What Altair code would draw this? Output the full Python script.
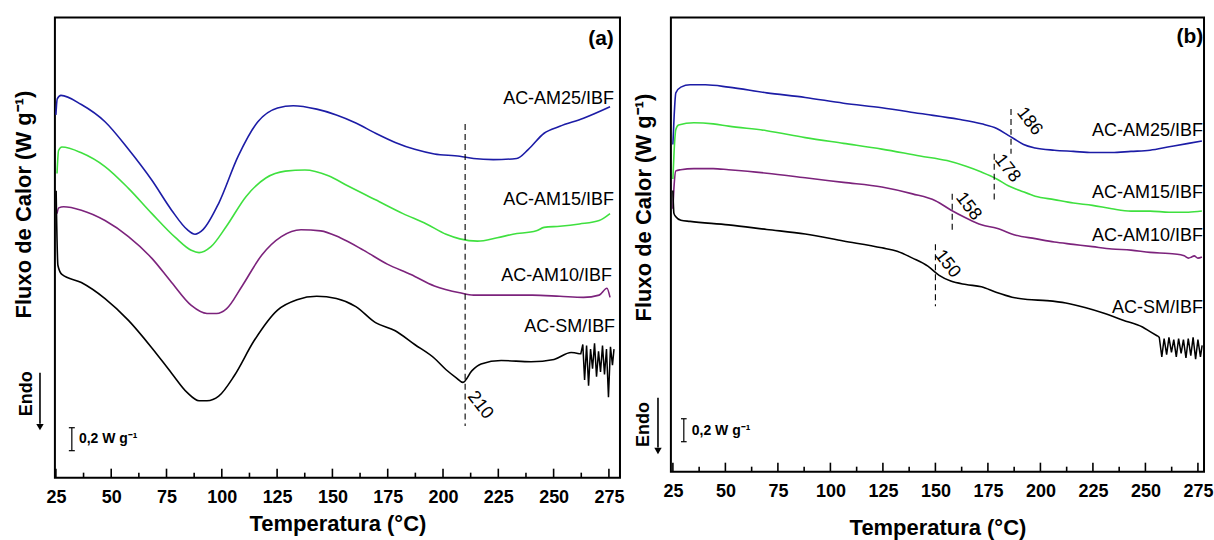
import altair as alt
import pandas as pd

# ---------------------------------------------------------------- series
SERIES = ["AC-AM25/IBF", "AC-AM15/IBF", "AC-AM10/IBF", "AC-SM/IBF"]
COLORS = ["#1c1ca6", "#3fe03f", "#7c237c", "#000000"]

# ---- panel (a): DSC heating curves, temperature (°C) vs heat flow (W/g, shifted)
a_am25_t = [25.0, 25.6, 27.3, 36.5, 47.2, 57.8, 68.4, 77.3, 84.4, 87.9, 91.5, 98.6, 107.4, 116.3, 125.2, 132.3,
            142.9, 151.8, 160.6, 169.5, 178.4, 187.2, 196.1, 207.6, 213.8, 222.7, 233.3, 238.6, 245.7, 252.8, 263.5, 275.5]
a_am25_q = [3.16, 3.30, 3.33, 3.25, 3.10, 2.86, 2.59, 2.33, 2.16, 2.12, 2.16, 2.39, 2.80, 3.10, 3.22, 3.24,
            3.21, 3.16, 3.09, 3.00, 2.92, 2.86, 2.82, 2.80, 2.78, 2.77, 2.78, 2.86, 3.00, 3.06, 3.13, 3.23]

a_am15_t = [25.5, 26.2, 27.7, 36.5, 47.2, 57.8, 68.4, 79.1, 86.2, 89.7, 95.0, 102.1, 111.0, 119.9, 128.7, 137.6,
            148.2, 157.1, 169.5, 181.9, 192.5, 201.4, 207.6, 215.6, 224.5, 231.6, 242.2, 245.7, 252.8, 261.7, 270.6, 275.5]
a_am15_q = [2.65, 2.85, 2.88, 2.83, 2.71, 2.52, 2.30, 2.09, 1.98, 1.96, 2.01, 2.19, 2.45, 2.61, 2.67, 2.68,
            2.63, 2.54, 2.42, 2.30, 2.21, 2.12, 2.08, 2.06, 2.09, 2.12, 2.15, 2.18, 2.19, 2.21, 2.24, 2.30]

a_am10_t = [25.5, 26.3, 28.5, 36.5, 47.2, 57.8, 68.4, 77.3, 86.2, 93.3, 97.7, 102.1, 109.2, 118.1, 126.9, 135.8,
            144.7, 153.5, 164.2, 174.8, 185.5, 196.1, 207.6, 213.8, 224.5, 240.4, 252.8, 263.5, 270.6, 274.1, 275.5]
a_am10_q = [2.30, 2.35, 2.36, 2.33, 2.24, 2.10, 1.91, 1.70, 1.50, 1.43, 1.43, 1.47, 1.67, 1.94, 2.10, 2.16,
            2.15, 2.09, 1.98, 1.86, 1.77, 1.67, 1.61, 1.59, 1.59, 1.59, 1.58, 1.57, 1.59, 1.65, 1.57]

a_sm_t = [25.1, 25.9, 27.7, 36.5, 47.2, 57.8, 68.4, 77.3, 84.4, 89.7, 93.3, 98.6, 105.7, 114.5, 125.2, 134.0,
          142.9, 151.8, 160.6, 169.5, 178.4, 187.2, 196.1, 201.4, 206.0, 209.0, 213.0, 217.2, 226.3, 239.8, 250.2,
          257.9, 261.5]
a_sm_q = [2.50, 1.85, 1.77, 1.70, 1.56, 1.37, 1.13, 0.91, 0.74, 0.67, 0.67, 0.71, 0.89, 1.19, 1.46, 1.55,
          1.58, 1.56, 1.49, 1.35, 1.28, 1.16, 1.04, 0.94, 0.87, 0.83, 0.93, 0.99, 1.02, 1.01, 1.03,
          1.09, 1.08]
# unstable signal at the end of the AC-SM/IBF run
a_sm_noise_t = [262.3, 263.2, 264.0, 264.9, 265.8, 266.7, 267.6, 268.5, 269.4, 270.3, 271.2, 272.1,
                273.0, 273.9, 274.8, 275.7, 276.6, 277.3]
a_sm_noise_q = [1.08, 1.16, 0.85, 1.15, 0.80, 1.12, 0.95, 1.17, 0.88, 1.10, 0.92, 1.15,
                0.90, 1.12, 0.70, 1.14, 0.98, 1.12]

# ---- panel (b)
b_am25_t = [25.0, 25.6, 26.4, 28.8, 33.2, 40.5, 51.5, 69.7, 88.0, 106.2, 124.5, 142.7, 161.0, 171.9,
            179.2, 184.7, 187.4, 192.0, 197.5, 206.6, 215.7, 224.8, 234.0, 243.1, 252.2, 261.3, 270.5, 276.9]
b_am25_q = [2.85, 3.10, 3.30, 3.35, 3.37, 3.37, 3.35, 3.30, 3.26, 3.21, 3.17, 3.12, 3.07, 3.03,
            2.99, 2.93, 2.90, 2.85, 2.82, 2.80, 2.79, 2.78, 2.78, 2.79, 2.80, 2.83, 2.86, 2.88]

b_am15_t = [25.0, 25.6, 26.4, 27.7, 35.0, 44.2, 51.5, 69.7, 88.0, 106.2, 124.5, 142.7, 155.5, 164.6,
            171.9, 179.2, 184.7, 190.2, 197.5, 206.6, 215.7, 224.8, 234.0, 243.1, 252.2, 261.3, 270.5, 276.9]
b_am15_q = [2.55, 2.80, 2.98, 3.02, 3.04, 3.03, 3.01, 2.97, 2.91, 2.86, 2.81, 2.75, 2.71, 2.66,
            2.61, 2.55, 2.49, 2.45, 2.40, 2.37, 2.34, 2.32, 2.29, 2.27, 2.27, 2.26, 2.26, 2.27]

b_am10_t = [25.0, 25.6, 26.4, 28.7, 35.0, 44.2, 51.5, 69.7, 88.0, 106.2, 124.5, 139.1, 150.0, 157.3,
            164.6, 171.9, 179.2, 188.3, 197.5, 206.6, 215.7, 224.8, 234.0, 243.1, 252.2, 261.3, 266.8,
            268.5, 270.5, 272.0, 273.2, 275.0, 276.9]
b_am10_q = [2.29, 2.50, 2.62, 2.63, 2.64, 2.64, 2.63, 2.60, 2.56, 2.52, 2.48, 2.42, 2.36, 2.28,
            2.21, 2.15, 2.12, 2.06, 2.03, 2.00, 1.98, 1.96, 1.94, 1.93, 1.91, 1.90, 1.89,
            1.88, 1.86, 1.87, 1.88, 1.86, 1.87]

b_sm_t = [25.0, 25.5, 26.4, 28.8, 33.2, 51.5, 69.7, 88.0, 106.2, 124.5, 131.8, 139.1, 146.4, 151.8,
          157.3, 164.6, 171.9, 179.2, 186.5, 193.8, 202.9, 212.1, 221.2, 230.3, 239.4, 248.6, 252.2,
          255.9]
b_sm_q = [2.45, 2.25, 2.22, 2.19, 2.18, 2.15, 2.11, 2.07, 2.01, 1.95, 1.92, 1.86, 1.79, 1.71,
          1.66, 1.63, 1.61, 1.56, 1.52, 1.50, 1.49, 1.47, 1.43, 1.38, 1.32, 1.26, 1.22,
          1.18]
b_sm_noise_t = [256.6, 257.8, 258.9, 260.1, 261.2, 262.4, 263.5, 264.7, 265.8, 267.0, 268.1, 269.3,
                270.4, 271.6, 272.7, 273.9, 275.0, 276.2, 277.0]
b_sm_noise_q = [1.17, 1.00, 1.16, 1.02, 1.17, 1.04, 1.15, 1.00, 1.16, 1.03, 1.15, 0.99,
                1.16, 1.01, 1.17, 0.98, 1.15, 1.00, 1.10]

# ---- transition markers (dashed guides and their temperature labels)
a_mark_t = [210]
a_mark_top = [3.08]
a_mark_bot = [0.45]
a_mark_label = ["210"]
a_mark_label_t = [216.8]
a_mark_label_q = [0.63]

b_mark_t = [186, 178, 158, 150]
b_mark_top = [3.16, 2.77, 2.42, 1.98]
b_mark_bot = [2.77, 2.34, 2.10, 1.44]
b_mark_label = ["186", "178", "158", "150"]
b_mark_label_t = [194.7, 184.2, 165.7, 155.7]
b_mark_label_q = [3.05, 2.64, 2.31, 1.81]

# ---- curve names at the right edge
a_name_t = [277.3, 277.3, 276.4, 277.8]
a_name_q = [3.30, 2.42, 1.76, 1.31]
b_name_t = [277.4, 277.4, 277.4, 277.4]
b_name_q = [2.965, 2.426, 2.052, 1.426]

TICKS_MAJOR = [25, 50, 75, 100, 125, 150, 175, 200, 225, 250, 275]
TICKS_MINOR = [37.5, 62.5, 87.5, 112.5, 137.5, 162.5, 187.5, 212.5, 237.5, 262.5]

FONT = "Liberation Sans, Arial, sans-serif"
SCALE_STEP = 0.2  # W/g represented by the scale bar


def curves_frame(ts, qs):
    rows = []
    for name, t, q in zip(SERIES, ts, qs):
        for i, (x, y) in enumerate(zip(t, q)):
            rows.append({"serie": name, "T": x, "q": y, "i": i})
    return pd.DataFrame(rows)


def noise_frame(name, t_main, q_main, t_noise, q_noise):
    # starts at the last point of the smooth trace so both pieces join
    t = [t_main[-1]] + t_noise
    q = [q_main[-1]] + q_noise
    return pd.DataFrame({"serie": name, "T": t, "q": q, "i": range(len(t))})


def panel(curves, noise, marks, names, tag, bar, endo, xdom, ydom, w, h, ytitle_xy, xtitle_y):
    xs = alt.Scale(domain=xdom, nice=False, zero=False)
    ys = alt.Scale(domain=ydom, nice=False, zero=False)
    xaxis = alt.Axis(values=TICKS_MAJOR, ticks=False, domain=False, grid=False,
                     labelFont=FONT, labelFontSize=18, labelFontWeight="bold", labelColor="black",
                     labelPadding=11, labelFlush=False,
                     title="Temperatura (°C)", titleFont=FONT, titleFontSize=22, titleFontWeight="bold",
                     titleColor="black", titleY=xtitle_y, titleBaseline="middle")
    yaxis = alt.Axis(labels=False, ticks=False, domain=False, grid=False,
                     title="Fluxo de Calor (W g⁻¹)", titleFont=FONT, titleFontSize=22,
                     titleFontWeight="bold", titleColor="black", titleAngle=270,
                     titleX=ytitle_xy[0], titleY=ytitle_xy[1], titleBaseline="middle", titleAlign="center")

    def X(field="T"):
        return alt.X(f"{field}:Q", scale=xs, axis=xaxis)

    def Y(field="q"):
        return alt.Y(f"{field}:Q", scale=ys, axis=yaxis)

    color = alt.Color("serie:N", scale=alt.Scale(domain=SERIES, range=COLORS), legend=None)
    lines = alt.Chart(curves).mark_line(strokeWidth=1.6, interpolate="monotone").encode(
        x=X(), y=Y(), color=color, detail="serie:N", order="i:Q")
    jitter = alt.Chart(noise).mark_line(strokeWidth=1.5, interpolate="linear").encode(
        x=X(), y=Y(), color=color, order="i:Q")

    mt, mtop, mbot, mlab, mlt, mlq = marks
    mdf = pd.DataFrame({"T": mt, "q": mtop, "q2": mbot})
    guides = alt.Chart(mdf).mark_rule(color="black", strokeWidth=1.1, strokeDash=[6, 4]).encode(
        x=X(), y=Y(), y2="q2:Q")
    ldf = pd.DataFrame({"T": mlt, "q": mlq, "txt": mlab})
    guide_txt = alt.Chart(ldf).mark_text(font=FONT, fontSize=18, angle=52, color="black",
                                         align="center", baseline="middle").encode(
        x=X(), y=Y(), text="txt:N")

    nt, nq = names
    ndf = pd.DataFrame({"T": nt, "q": nq, "txt": SERIES})
    name_txt = alt.Chart(ndf).mark_text(font=FONT, fontSize=18, color="black",
                                        align="right", baseline="middle").encode(
        x=X(), y=Y(), text="txt:N")

    tdf = pd.DataFrame({"T": [tag[1]], "q": [tag[2]], "txt": [tag[0]]})
    tag_txt = alt.Chart(tdf).mark_text(font=FONT, fontSize=21, fontWeight="bold", color="black",
                                       align="center", baseline="middle").encode(
        x=X(), y=Y(), text="txt:N")

    # scale bar: vertical segment of SCALE_STEP W/g with short caps
    bt, bq0, cap, tx, tq = bar
    bq1 = bq0 + SCALE_STEP
    bar_v = alt.Chart(pd.DataFrame({"T": [bt], "q": [bq0], "q2": [bq1]})).mark_rule(
        color="black", strokeWidth=1.2).encode(x=X(), y=Y(), y2="q2:Q")
    bar_c = alt.Chart(pd.DataFrame({"T": [bt - cap, bt - cap], "T2": [bt + cap, bt + cap],
                                    "q": [bq0, bq1]})).mark_rule(
        color="black", strokeWidth=1.2).encode(x=X(), x2="T2:Q", y=Y())
    bar_t = alt.Chart(pd.DataFrame({"T": [tx], "q": [tq], "txt": ["0,2 W g⁻¹"]})).mark_text(
        font=FONT, fontSize=14, fontWeight="bold", color="black", align="left", baseline="middle").encode(
        x=X(), y=Y(), text="txt:N")

    # "Endo" direction arrow
    et, eq, at, aq0, aq1, tipq = endo
    endo_t = alt.Chart(pd.DataFrame({"T": [et], "q": [eq], "txt": ["Endo"]})).mark_text(
        font=FONT, fontSize=18, fontWeight="bold", color="black", angle=270,
        align="center", baseline="middle").encode(x=X(), y=Y(), text="txt:N")
    arrow = alt.Chart(pd.DataFrame({"T": [at], "q": [aq0], "q2": [aq1]})).mark_rule(
        color="black", strokeWidth=1.6).encode(x=X(), y=Y(), y2="q2:Q")
    head = alt.Chart(pd.DataFrame({"T": [at], "q": [tipq]})).mark_point(
        shape="triangle-down", filled=True, size=55, color="black", opacity=1).encode(x=X(), y=Y())

    # inward ticks on the temperature axis
    major = alt.Chart(pd.DataFrame({"T": TICKS_MAJOR})).mark_rule(color="black", strokeWidth=1.6).encode(
        x=X(), y=alt.value(h), y2=alt.value(h - 9))
    minor = alt.Chart(pd.DataFrame({"T": TICKS_MINOR})).mark_rule(color="black", strokeWidth=1.6).encode(
        x=X(), y=alt.value(h), y2=alt.value(h - 5))

    return alt.layer(lines, jitter, guides, guide_txt, name_txt, tag_txt, bar_v, bar_c, bar_t,
                     endo_t, arrow, head, major, minor).properties(width=w, height=h)


curves_a = curves_frame([a_am25_t, a_am15_t, a_am10_t, a_sm_t], [a_am25_q, a_am15_q, a_am10_q, a_sm_q])
curves_b = curves_frame([b_am25_t, b_am15_t, b_am10_t, b_sm_t], [b_am25_q, b_am15_q, b_am10_q, b_sm_q])
noise_a = noise_frame("AC-SM/IBF", a_sm_t, a_sm_q, a_sm_noise_t, a_sm_noise_q)
noise_b = noise_frame("AC-SM/IBF", b_sm_t, b_sm_q, b_sm_noise_t, b_sm_noise_q)

chart_a = panel(
    curves_a, noise_a,
    (a_mark_t, a_mark_top, a_mark_bot, a_mark_label, a_mark_label_t, a_mark_label_q),
    (a_name_t, a_name_q),
    ("(a)", 271.4, 3.82),
    (32.2, 0.235, 1.35, 35.4, 0.34),
    (11.9, 0.73, 17.8, 0.913, 0.47, 0.44),
    [24.55, 280.0], [0, 4.009], 566, 461, (-31, 187), 46)

chart_b = panel(
    curves_b, noise_b,
    (b_mark_t, b_mark_top, b_mark_bot, b_mark_label, b_mark_label_t, b_mark_label_q),
    (b_name_t, b_name_q),
    ("(b)", 271.2, 3.79),
    (30.2, 0.261, 1.35, 34.0, 0.35),
    (11.2, 0.41, 17.9, 0.643, 0.21, 0.18),
    [24.05, 277.9], [0, 3.957], 534, 455, (-27, 190), 56)

chart = alt.hconcat(chart_a, chart_b, spacing=6).configure_view(
    stroke="black", strokeWidth=2
).properties(
    padding={"left": 11, "top": 16, "right": 0, "bottom": 0},
    background="white",
)

chart.save("out.html", embed_options={"renderer": "svg", "actions": False})
